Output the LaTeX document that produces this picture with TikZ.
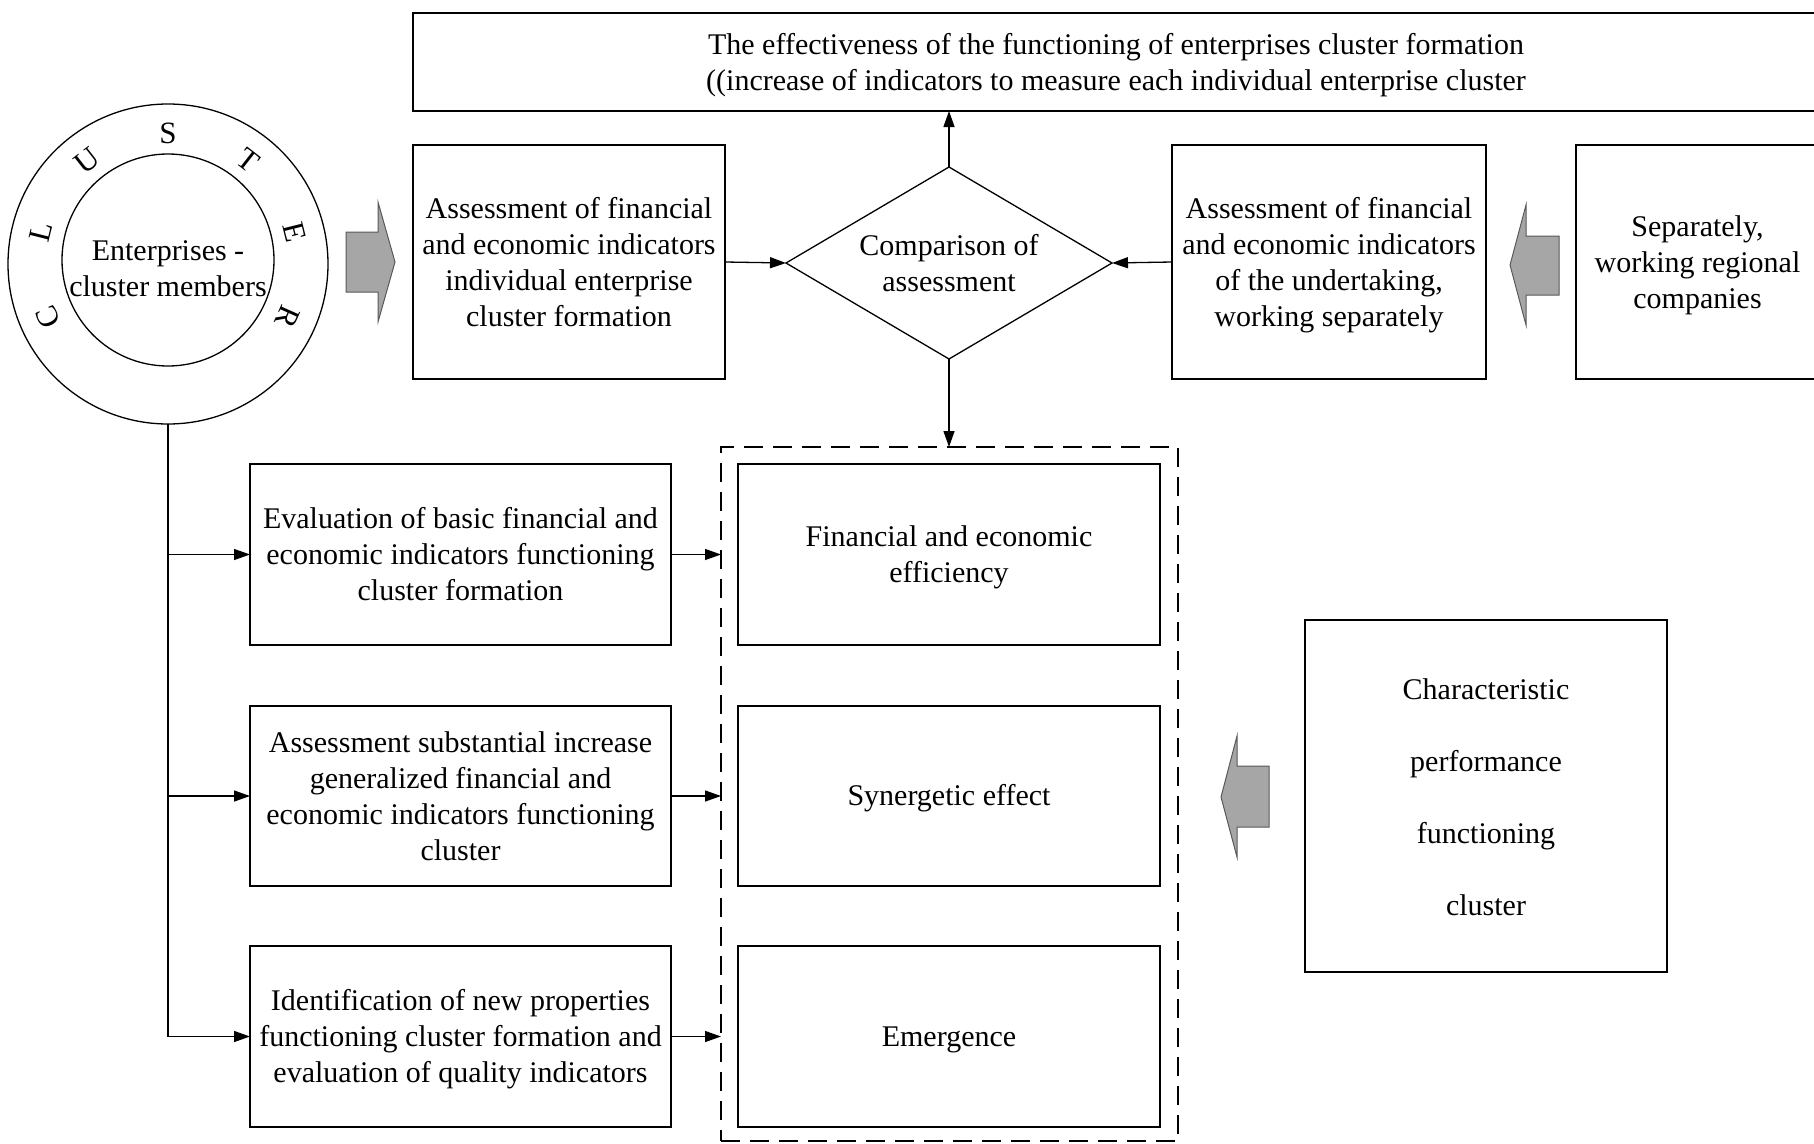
\documentclass[tikz,border=0pt]{standalone}
\usepackage{fontspec}
\setmainfont{Liberation Serif}
\usetikzlibrary{shapes.geometric,arrows.meta,calc}
\newcommand\mystrut{\rule[-7pt]{0pt}{33pt}}
\newcommand\fls{\rule{0pt}{27pt}}
\newcommand\chrfls{\rule{0pt}{29.5pt}}
\begin{document}
\begin{tikzpicture}[x=1pt,y=-1pt,
  every node/.style={font=\fontsize{30}{36}\selectfont, align=center, inner sep=0pt, outer sep=0pt},
  txt/.style={execute at begin node=\mystrut, execute at end node=\mystrut},
  box/.style={draw, line width=1.3pt, rectangle, txt},
  arr/.style={line width=1.3pt, -{Triangle[length=16pt,width=11pt]}},
  plain/.style={line width=1.3pt},
  bigarrow/.style={draw=black!65, fill=black!35, line width=1pt},
  grpbox/.style={draw, line width=2.8pt, dash pattern=on 19pt off 10pt, rectangle},
  letter/.style={font=\fontsize{31}{34}\selectfont}]
\useasboundingbox (0,0) rectangle (1814,1143);

% top box
\node[box, minimum width=1406pt, minimum height=98pt] (top) at (1116,62)
  {\fls The effectiveness of the functioning of enterprises cluster formation\\((increase of indicators to measure each individual enterprise cluster};

% circles
\node[draw, circle, line width=1.3pt, minimum size=320pt] (outer) at (168,264) {};
\node[draw, circle, line width=1.3pt, minimum size=212pt] (inner) at (168,260) {};
\node[txt] (innertxt) at (168,268) {\fls Enterprises -\\cluster members};
\foreach \ch/\ang [count=\i] in {C/204,L/166,U/128,S/90,T/52,E/14,R/-24}{
  \pgfmathsetmacro{\rot}{\ang-90}
  \node[letter, rotate=\rot] (ch\i) at ($(outer.center)+(\ang:131pt)$) {\ch};
}

% row 1
\node[box, minimum width=312pt, minimum height=234pt] (a1) at (569,262)
  {\fls Assessment of financial\\and economic indicators\\individual enterprise\\cluster formation};
\node[draw, diamond, aspect=1.7, line width=1.3pt, minimum width=326pt, minimum height=192pt, txt] (dia) at (949,263)
  {\fls Comparison of\\assessment};
\node[box, minimum width=314pt, minimum height=234pt] (a2) at (1329,262)
  {\fls Assessment of financial\\and economic indicators\\of the undertaking,\\working separately};
\node[box, minimum width=243pt, minimum height=234pt] (sep) at (1697.5,262)
  {\fls Separately,\\working regional\\companies};

% big arrows
\draw[bigarrow] (346,232) -- (378,232) -- (378,202) -- (395,262) -- (378,322) -- (378,292) -- (346,292) -- cycle;
\draw[bigarrow] (1559,236) -- (1526,236) -- (1526,205) -- (1510,265) -- (1526,325) -- (1526,295) -- (1559,295) -- cycle;
\draw[bigarrow] (1269,766) -- (1237,766) -- (1237,736) -- (1221,797) -- (1237,857) -- (1237,827) -- (1269,827) -- cycle;

% dashed group
\node[grpbox, minimum width=457pt, minimum height=694pt] (grp) at (949.5,794) {};
\node[box, minimum width=422pt, minimum height=181pt] (r1) at (949,554.5) {\fls Financial and economic\\efficiency};
\node[box, minimum width=422pt, minimum height=180pt] (r2) at (949,796) {Synergetic effect};
\node[box, minimum width=422pt, minimum height=181pt] (r3) at (949,1036.5) {Emergence};

% left lower boxes
\node[box, minimum width=421pt, minimum height=181pt] (lb1) at (460.5,554.5)
  {\fls Evaluation of basic financial and\\economic indicators functioning\\cluster formation};
\node[box, minimum width=421pt, minimum height=180pt] (lb2) at (460.5,796)
  {\fls Assessment substantial increase\\generalized financial and\\economic indicators functioning\\cluster};
\node[box, minimum width=421pt, minimum height=181pt] (lb3) at (460.5,1036.5)
  {\fls Identification of new properties\\functioning cluster formation and\\evaluation of quality indicators};

% characteristic box
\node[box, minimum width=362pt, minimum height=352pt, font=\fontsize{30}{72}\selectfont] (chr) at (1486,796)
  {\chrfls Characteristic\\performance\\functioning\\cluster};

% connectors
\draw[arr] (dia.north) -- (dia.north |- top.south);
\draw[arr] (a1.east) -- (dia.west);
\draw[arr] (a2.west) -- (dia.east);
\draw[arr] (dia.south) -- (dia.south |- grp.north);
\draw[arr] (lb1.east) -- (lb1.east -| grp.west);
\draw[arr] (lb2.east) -- (lb2.east -| grp.west);
\draw[arr] (lb3.east) -- (lb3.east -| grp.west);
\draw[plain] (outer.south) -- (outer.south |- lb3.west);
\draw[arr] (outer.south |- lb1.west) -- (lb1.west);
\draw[arr] (outer.south |- lb2.west) -- (lb2.west);
\draw[arr] (outer.south |- lb3.west) -- (lb3.west);
\end{tikzpicture}
\end{document}
